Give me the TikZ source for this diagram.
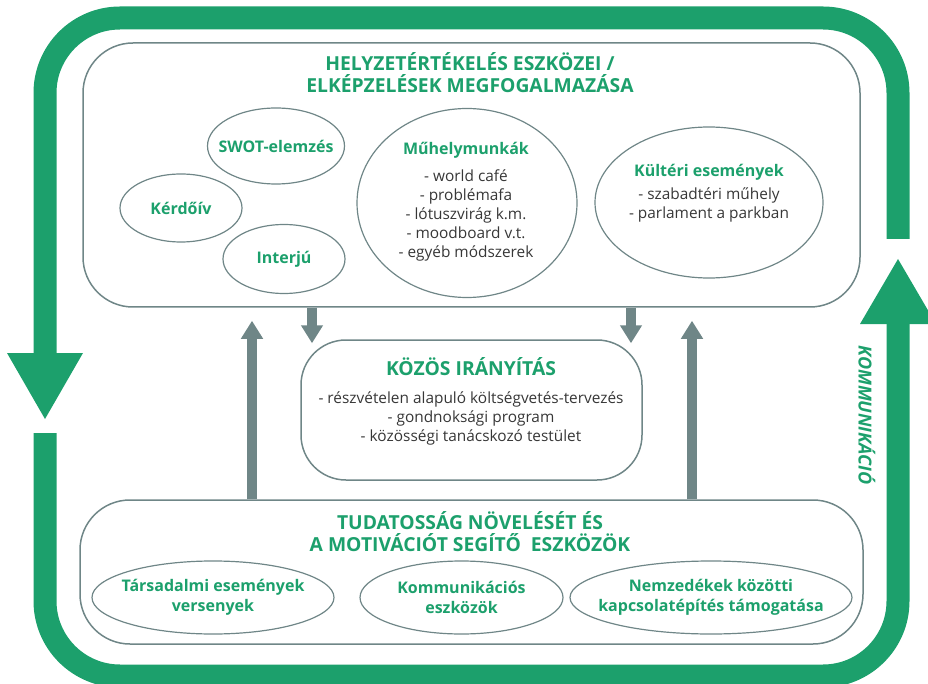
\documentclass[tikz,border=0pt]{standalone}
\usepackage{fontspec}
\setmainfont{Open Sans}
\usetikzlibrary{positioning,shapes.geometric,arrows.meta}
\definecolor{zold}{RGB}{28,160,108}
\definecolor{szurke}{RGB}{111,134,135}
\definecolor{szoveg}{RGB}{55,55,55}

\begin{document}
\begin{tikzpicture}[
    x=1pt, y=-1pt,
    doboz/.style={draw=szurke, line width=1.5pt, rounded corners=50pt, inner sep=0pt},
    ovalis/.style={ellipse, draw=szurke, line width=1.2pt, inner sep=0pt},
    cim/.style={text=zold, font=\bfseries\fontsize{19.3}{22}\selectfont, align=center},
    alcim/.style={text=zold, font=\bfseries\fontsize{16}{20}\selectfont, align=center},
    lista/.style={text=szoveg, font=\fontsize{15.4}{19}\selectfont, align=center},
    nyil/.style={draw=szurke, line width=10pt, -{Triangle[width=21pt,length=18pt]}},
    sav/.style={draw=zold, line width=23pt, rounded corners=75pt}
]
    \useasboundingbox (0,0) rectangle (928,684);

    % Kommunikáció sáv
    \draw[sav] (45,353) -- (45,18) -- (898,18) -- (898,239);
    \draw[sav] (45,433) -- (45,676) -- (898,676) -- (898,324);
    \fill[zold] (7,353) -- (83,353) -- (45,419) -- cycle;
    \fill[zold] (860,324) -- (936,324) -- (898,259) -- cycle;
    \node[text=zold, font=\bfseries\itshape\fontsize{18}{18}\selectfont, rotate=-90] (komm) at (867,415) {KOMMUNIKÁCIÓ};

    % Dobozok
    \node[doboz, minimum width=777pt, minimum height=264pt] (felso) at (471.5,175) {};
    \node[doboz, rounded corners=45pt, minimum width=341pt, minimum height=140pt] (kozos) at (471.5,410) {};
    \node[doboz, minimum width=783pt, minimum height=144pt] (also) at (471.5,572) {};

    % Helyzetértékelés
    \node[cim] (felsocim) at (470,73) {HELYZETÉRTÉKELÉS ESZKÖZEI /\\ELKÉPZELÉSEK MEGFOGALMAZÁSA};
    \node[ovalis, minimum width=137pt, minimum height=76pt] (swot) at (276,146) {};
    \node[alcim] (swotT) at (swot) {SWOT-elemzés};
    \node[ovalis, minimum width=122pt, minimum height=68pt] (kerdoiv) at (181,208) {};
    \node[alcim] (kerdoivT) at (kerdoiv) {Kérdőív};
    \node[ovalis, minimum width=122pt, minimum height=69pt] (interju) at (284,259) {};
    \node[alcim] (interjuT) at (interju) {Interjú};
    \node[ovalis, minimum width=220pt, minimum height=189pt] (muhely) at (467,203) {};
    \node[alcim] (muhelyT) at (466,150) {Műhelymunkák};
    \node[lista] (muhelyL) at (466,215) {- world café\\- problémafa\\- lótuszvirág k.m.\\- moodboard v.t.\\- egyéb módszerek};
    \node[ovalis, minimum width=228pt, minimum height=151pt] (kulteri) at (709,202.5) {};
    \node[alcim] (kulteriT) at (709,172) {Kültéri események};
    \node[lista] (kulteriL) at (709,204.5) {- szabadtéri műhely\\- parlament a parkban};

    % Közös irányítás
    \node[cim] (kozoscim) at (471,367) {KÖZÖS IRÁNYÍTÁS};
    \node[lista] (kozosL) at (471,418) {- részvételen alapuló költségvetés-tervezés\\- gondnoksági program\\- közösségi tanácskozó testület};

    % Tudatosság
    \node[cim] (alsocim) at (470,531.5) {TUDATOSSÁG NÖVELÉSÉT ÉS\\A MOTIVÁCIÓT SEGÍTŐ\ \ ESZKÖZÖK};
    \node[ovalis, minimum width=242pt, minimum height=73pt] (tars) at (213,597.5) {};
    \node[alcim] (tarsT) at (tars) {Társadalmi események\\versenyek};
    \node[ovalis, minimum width=203pt, minimum height=73pt] (komeszk) at (461.5,597.5) {};
    \node[alcim] (komeszkT) at (komeszk) {Kommunikációs\\eszközök};
    \node[ovalis, minimum width=282pt, minimum height=73pt] (nemz) at (711,597.5) {};
    \node[alcim] (nemzT) at (nemz) {Nemzedékek közötti\\kapcsolatépítés támogatása};

    % Nyilak
    \coordinate (le1) at (312,0);
    \coordinate (le2) at (631,0);
    \coordinate (fel1) at (252,0);
    \coordinate (fel2) at (692,0);
    \draw[nyil, shorten >=-4pt] (felso.south -| le1) -- (kozos.north -| le1);
    \draw[nyil, shorten >=-4pt] (felso.south -| le2) -- (kozos.north -| le2);
    \draw[nyil, shorten >=13pt] (also.north -| fel1) -- (felso.south -| fel1);
    \draw[nyil, shorten >=13pt] (also.north -| fel2) -- (felso.south -| fel2);

\end{tikzpicture}
\end{document}
